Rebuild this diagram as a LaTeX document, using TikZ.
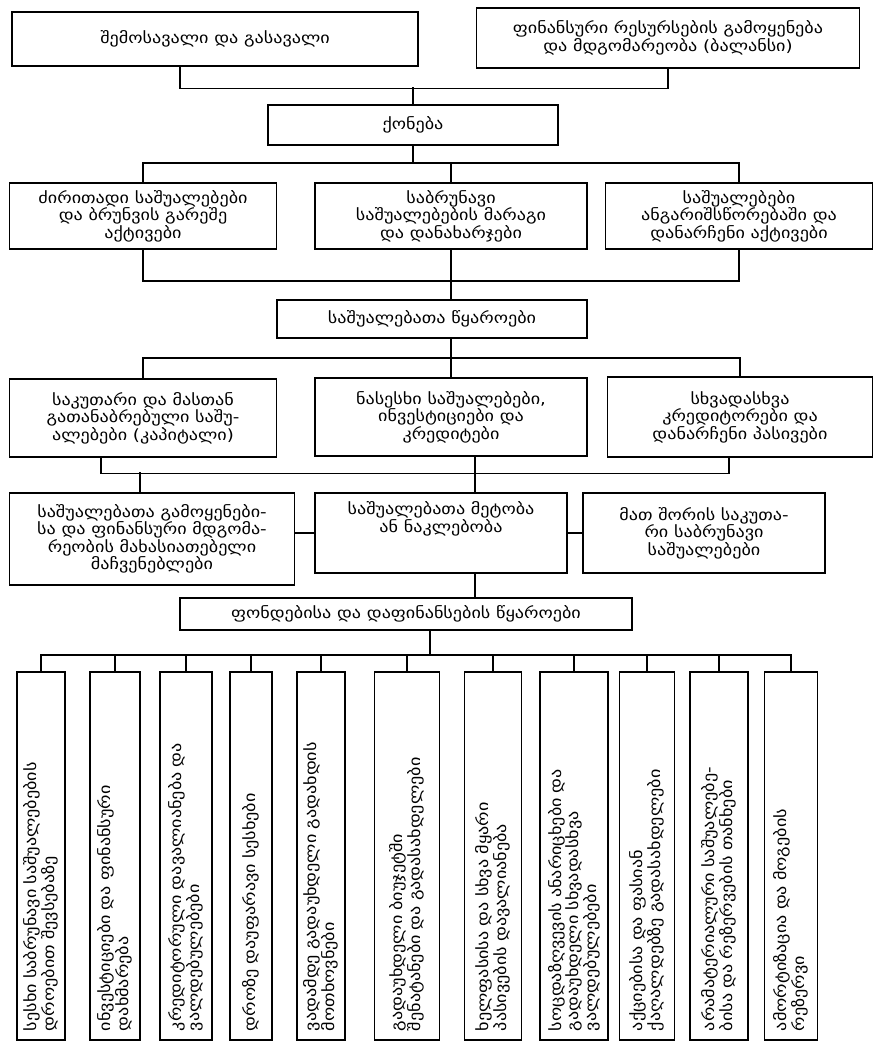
\documentclass[tikz,border=0pt]{standalone}
\usepackage{fontspec}
\setmainfont{DejaVu Sans}[FakeStretch=1.17]
\begin{document}
\begin{tikzpicture}[x=1pt,y=-1pt,
  box/.style={draw, line width=1.4pt, align=center, inner sep=2pt,
    font=\fontsize{15.5}{17.5}\selectfont},
  vbox/.style={draw, line width=1.4pt, rotate=90, align=left,
    text width=350pt, inner xsep=9pt, inner ysep=0pt, minimum height=#1,
    font=\fontsize{15.5}{17.5}\selectfont},
  link/.style={line width=1.3pt}]
\path[use as bounding box, fill=white] (0,0) rectangle (875,1051);

% top level
\node[box, minimum width=406pt, minimum height=54pt] (inc) at (215,39) {შემოსავალი და გასავალი};
\node[box, minimum width=383pt, minimum height=60pt] (bal) at (668,38) {ფინანსური რესურსების გამოყენება\\და მდგომარეობა (ბალანსი)};
\node[box, minimum width=290pt, minimum height=40pt] (qon) at (413,125) {ქონება};

% assets
\node[box, minimum width=267pt, minimum height=66pt] (a1) at (143,216) {ძირითადი საშუალებები\\და ბრუნვის გარეშე\\აქტივები};
\node[box, minimum width=272pt, minimum height=66pt] (a2) at (451,216) {საბრუნავი\\საშუალებების მარაგი\\და დანახარჯები};
\node[box, minimum width=267pt, minimum height=66pt] (a3) at (739,216) {საშუალებები\\ანგარიშსწორებაში და\\დანარჩენი აქტივები};

% sources
\node[box, minimum width=310pt, minimum height=38pt] (src) at (432,319) {საშუალებათა წყაროები};
\node[box, minimum width=267pt, minimum height=78pt] (p1) at (143,418) {საკუთარი და მასთან\\გათანაბრებული საშუ-\\ალებები (კაპიტალი)};
\node[box, minimum width=272pt, minimum height=78pt] (p2) at (451,417) {ნასესხი საშუალებები,\\ინვესტიციები და\\კრედიტები};
\node[box, minimum width=265pt, minimum height=80pt] (p3) at (740,417) {სხვადასხვა\\კრედიტორები და\\დანარჩენი პასივები};

% indicators
\node[box, minimum width=285pt, minimum height=92pt] (c1) at (152,539) {საშუალებათა გამოყენები-\\სა და ფინანსური მდგომა-\\რეობის მახასიათებელი\\მაჩვენებლები};
\node[box, minimum width=252pt, minimum height=80pt] (c2) at (441,533) {საშუალებათა მეტობა\\ან ნაკლებობა\\[14pt]};
\node[box, minimum width=242pt, minimum height=80pt] (c3) at (704,533) {მათ შორის საკუთა-\\რი საბრუნავი\\საშუალებები};

\node[box, minimum width=452pt, minimum height=32pt] (fund) at (406,614) {ფონდებისა და დაფინანსების წყაროები};

% sources of funds (vertical)
\node[vbox=48pt] (v1) at (41,856) {სესხი საბრუნავი საშუალებების\\დროებით შევსებაზე};
\node[vbox=50pt] (v2) at (115,856) {ინვესტიციები და ფინანსური\\დახმარება};
\node[vbox=52pt] (v3) at (186,856) {კრედიტორული დავალიანება და\\ვალდებულებები};
\node[vbox=42pt] (v4) at (251,856) {დროზე დაუფარავი სესხები};
\node[vbox=48pt] (v5) at (321,856) {ვადამდე გადაუხდელი გადახდის\\მოთხოვნები};
\node[vbox=65pt] (v6) at (407,856) {გადაუხდელი ბიუჯეტში\\შენატანები და გადასახდელები};
\node[vbox=57pt] (v7) at (493,856) {ხელფასისა და სხვა მყარი\\პასივების დავალიანება};
\node[vbox=68pt] (v8) at (574,856) {სოცდაზღვევის ანარიცხები და\\გადაუხდელი სხვადასხვა\\ვალდებულებები};
\node[vbox=55pt] (v9) at (647,856) {აქციებისა და ფასიან\\ქაღალდებზე გადასახდელები};
\node[vbox=58pt] (v10) at (719,856) {არამატერიალური საშუალებე-\\ბისა და რეზერვების თანხები};
\node[vbox=53pt] (v11) at (791,856) {ამორტიზაცია და მოგების\\რეზერვი};

% connectors
\coordinate (busB) at (0,163);
\coordinate (busC) at (0,281);
\coordinate (busD) at (0,358);
\coordinate (busF) at (0,655);

\draw[link] ([xshift=-35pt]inc.south) -- ++(0,22) -| (bal.south);
\draw[link] (qon.north) -- ++(0,-17);

\draw[link] (qon.south) -- (qon.south |- busB);
\draw[link] (a1.north) -- (a1.north |- busB) -- (a3.north |- busB) -- (a3.north);
\draw[link] (a2.north) -- (a2.north |- busB);

\draw[link] (a1.south) -- (a1.south |- busC) -- (a3.south |- busC) -- (a3.south);
\draw[link] (a2.south) -- (a2.south |- src.north);

\draw[link] (src.south -| p2.north) -- (p2.north);
\draw[link] (p1.north) -- (p1.north |- busD) -- (p3.north |- busD) -- (p3.north);

\draw[link] ([xshift=-42pt]p1.south) -- ++(0,16) -| ([xshift=-11pt]p3.south);
\draw[link] ([xshift=24pt]p2.south) -- ([xshift=34pt]c2.north);
\draw[link] ([xshift=-12pt]c1.north) -- ++(0,-20);
\draw[link] (c2.west -| c1.east) -- (c2.west);
\draw[link] (c2.east) -- (c3.west);

\draw[link] ([xshift=34pt]c2.south) -- ++(0,25);
\draw[link] ([xshift=24pt]fund.south) -- ++(0,25);
\draw[link] (v1.east) -- (v1.east |- busF) -- (v11.east |- busF) -- (v11.east);
\foreach \i in {2,...,10} \draw[link] (v\i.east) -- (v\i.east |- busF);
\end{tikzpicture}
\end{document}
